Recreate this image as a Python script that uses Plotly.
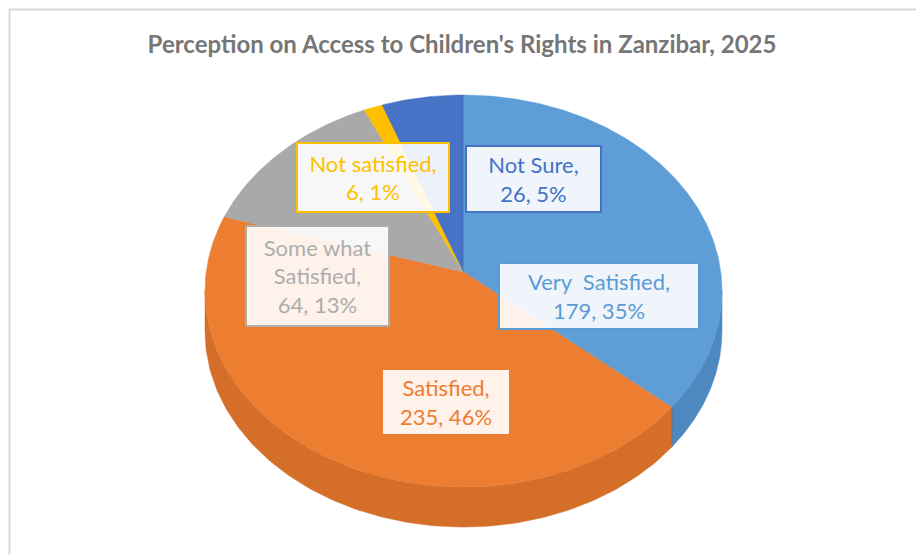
import numpy as np
import plotly.graph_objects as go

# ---------------- data ----------------
categories = ["Very  Satisfied", "Satisfied", "Some what Satisfied", "Not satisfied", "Not Sure"]
counts = [179, 235, 64, 6, 26]
label_names = ["Very\u00a0 Satisfied", "Satisfied", "Some what<br>Satisfied", "Not satisfied", "Not Sure"]
title_text = "Perception on Access to Children's Rights in Zanzibar, 2025"

# ---------------- styles ----------------
top_colors = ["#5E9DD6", "#ED7D31", "#A9A9A9", "#FFC000", "#4673C5"]
side_colors = ["#4E88C0", "#D56E28", "#949494", "#E0A800", "#3B63AC"]
text_colors = ["#5B9BD5", "#ED7D31", "#ADADAD", "#FFC000", "#4472C4"]
border_colors = ["#5B9BD5", "#ED7D31", "#ADADAD", "#FFC000", "#4472C4"]
# label box placement (pixel centre, width, height)
label_boxes = [
    (599, 296, 202, 68),
    (446, 402, 130, 68),
    (317.5, 276, 145, 102),
    (373, 177.5, 154, 71),
    (533.5, 179, 137, 68),
]

W, H = 924, 554
OFF = 8              # page body margin
cx, cy, rx, ry = 463.5, 291.0, 258.5, 196.0
cyc = 272.0          # visual centre (perspective)
depth = 40.0
FONT = "Lato, 'Open Sans', sans-serif"

total = sum(counts)
fracs = [c / total for c in counts]
starts = np.concatenate([[0], np.cumsum(fracs)[:-1]]) * 360
ends = np.cumsum(fracs) * 360


def rim(theta_deg, dy=0.0):
    t = np.radians(theta_deg)
    return cx + rx * np.sin(t), cy - ry * np.cos(t) + dy


fig = go.Figure()

# sides (front half only: 90..270 degrees)
for i in range(len(counts)):
    a0, a1 = max(starts[i], 90), min(ends[i], 270)
    if a1 <= a0:
        continue
    th = np.linspace(a0, a1, 120)
    x1, y1 = rim(th)
    x2, y2 = rim(th[::-1], depth)
    xs = np.concatenate([x1, x2, [x1[0]]])
    ys = np.concatenate([y1, y2, [y1[0]]])
    fig.add_trace(go.Scatter(x=xs, y=ys, mode="lines", fill="toself",
                             fillcolor=side_colors[i],
                             line=dict(color=side_colors[i], width=0.5),
                             hoverinfo="skip", showlegend=False))
    for a in (a0, a1):
        if 90 < a < 270:
            ex, ey = rim(np.array([a, a]), np.array([0, depth]))
            fig.add_trace(go.Scatter(x=ex, y=ey, mode="lines",
                                     line=dict(color="rgba(120,60,20,0.25)", width=1),
                                     hoverinfo="skip", showlegend=False))

# top faces
for i in range(len(counts)):
    th = np.linspace(starts[i], ends[i], max(8, int((ends[i] - starts[i]) * 2)))
    x1, y1 = rim(th)
    xs = np.concatenate([[cx], x1, [cx]])
    ys = np.concatenate([[cyc], y1, [cyc]])
    fig.add_trace(go.Scatter(x=xs, y=ys, mode="lines", fill="toself",
                             fillcolor=top_colors[i],
                             line=dict(color=top_colors[i], width=0.5),
                             name=categories[i],
                             text=[f"{categories[i]}: {counts[i]}"] * len(xs),
                             hoverinfo="text", showlegend=False))

# data labels
for i in range(len(counts)):
    pct = round(100 * counts[i] / total)
    bx, by, bw, bh = label_boxes[i]
    fig.add_annotation(
        x=bx, y=by, xref="x", yref="y", showarrow=False,
        text=f"{label_names[i]},<br>{counts[i]}, {pct}%",
        font=dict(family=FONT, size=22, color=text_colors[i]),
        bgcolor="rgba(255,255,255,0.9)",
        bordercolor=border_colors[i], borderwidth=2, borderpad=0,
        width=bw - 4, height=bh - 4, align="center", valign="middle",
    )

# chart frame (top and left edge visible)
fig.add_shape(type="path", path=f"M 9.5 {H + OFF} L 9.5 9.5 L {W + OFF} 9.5",
              xref="x", yref="y", line=dict(color="#D9D9D9", width=2))

fig.update_layout(
    width=W, height=H,
    margin=dict(l=0, r=0, t=0, b=0),
    paper_bgcolor="white", plot_bgcolor="white",
    title=dict(text=f"<b>{title_text}</b>", x=(462 - OFF) / W, xanchor="center",
               y=1 - (45 - OFF) / H, yanchor="middle",
               font=dict(family=FONT, size=24, color="#767676")),
    xaxis=dict(range=[OFF, W + OFF], visible=False, fixedrange=True),
    yaxis=dict(range=[H + OFF, OFF], visible=False, fixedrange=True),
)

fig.write_html("out.html")
